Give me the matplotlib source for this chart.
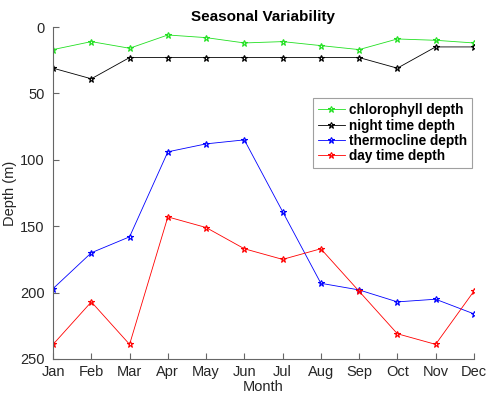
import matplotlib
matplotlib.use("Agg")
import matplotlib.pyplot as plt

months = ["Jan", "Feb", "Mar", "Apr", "May", "Jun", "Jul", "Aug", "Sep", "Oct", "Nov", "Dec"]
chlorophyll = [17, 11, 16, 6, 8, 12, 11, 14, 17, 9, 10, 12]
night = [31, 39, 23, 23, 23, 23, 23, 23, 23, 31, 15, 15]
thermocline = [197, 170, 158, 94, 88, 85, 139, 193, 198, 207, 205, 216]
daytime = [239, 207, 239, 143, 151, 167, 175, 167, 199, 231, 239, 199]

plt.rcParams['font.family'] = ['Liberation Sans', 'DejaVu Sans']
fig = plt.figure(figsize=(4.87, 3.99), dpi=100)
ax = fig.add_axes([0.109, 0.1003, 0.864, 0.832])
x = list(range(1, 13))
series = [(chlorophyll, '#22e022', 'chlorophyll depth'),
          (night, 'black', 'night time depth'),
          (thermocline, 'blue', 'thermocline depth'),
          (daytime, 'red', 'day time depth')]
for vals, c, lab in series:
    ax.plot(x, vals, color=c, lw=0.6, marker='*', ms=5, mfc='none', mew=0.8, label=lab)

ax.set_xlim(1, 12)
ax.set_ylim(250, 0)
ax.set_xticks(x)
ax.set_xticklabels(months)
ax.set_yticks([0, 50, 100, 150, 200, 250])
for s in ['top', 'right']:
    ax.spines[s].set_visible(False)
for s in ['left', 'bottom']:
    ax.spines[s].set_color('#666666')
    ax.spines[s].set_linewidth(0.8)
ax.tick_params(direction='in', length=4, color='#666666', labelsize=10.5, labelcolor='#262626')
ax.tick_params(axis='y', pad=6)
ax.tick_params(axis='x', pad=4)
ax.set_xlabel('Month', fontsize=10.5, color='#262626', labelpad=1)
ax.set_ylabel('Depth (m)', fontsize=10.5, color='#262626', labelpad=2)
ax.set_title('Seasonal Variability', fontsize=11, fontweight='bold', pad=4)
leg = ax.legend(loc='upper right', bbox_to_anchor=(0.995, 0.785), prop={'weight': 'bold', 'size': 9.8},
                frameon=True, fancybox=False, edgecolor='#888888', handlelength=2.0,
                handletextpad=0.3, borderpad=0.35, labelspacing=0.1, borderaxespad=0)
leg.get_frame().set_linewidth(0.8)
fig.savefig('out.png', dpi=100)
